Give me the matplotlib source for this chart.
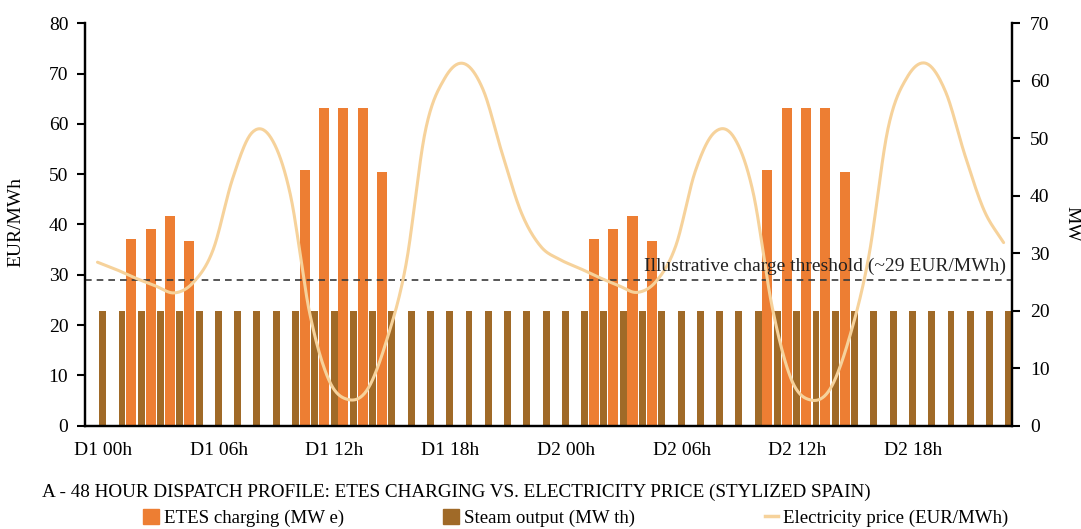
import numpy as np
import matplotlib.pyplot as plt
from matplotlib.patches import Patch
from matplotlib.lines import Line2D

plt.rcParams['font.family'] = ['Liberation Serif', 'DejaVu Serif']
plt.rcParams['font.size'] = 14

# 48 hourly steps, two stylized days
hours = np.arange(48)
tick_hours = [0, 6, 12, 18, 24, 30, 36, 42]
tick_labels = ["D1 00h", "D1 06h", "D1 12h", "D1 18h",
               "D2 00h", "D2 06h", "D2 12h", "D2 18h"]

# electricity price, EUR/MWh
price = [32.5, 31.0, 29.3, 27.8, 26.4, 28.6, 35.0, 49.0, 58.2, 57.2, 46.0, 22.5,
         9.1, 5.2, 7.2, 17.0, 32.0, 58.5, 69.0, 72.0, 66.8, 54.0, 42.2, 35.6,
         33.0, 31.3, 29.5, 27.9, 26.5, 28.8, 35.8, 50.5, 58.3, 57.4, 46.5, 23.5,
         9.1, 5.1, 7.3, 17.5, 33.5, 59.0, 69.3, 72.0, 66.3, 53.7, 42.7, 36.4]

# ETES charging, MW e (only hours where it charges)
charge_hours = [2, 3, 4, 5, 11, 12, 13, 14, 15,
                26, 27, 28, 29, 35, 36, 37, 38, 39]
charge_mw = [32.5, 34.3, 36.4, 32.2, 44.4, 55.3, 55.3, 55.3, 44.2,
             32.5, 34.3, 36.4, 32.2, 44.4, 55.3, 55.3, 55.3, 44.2]

# steam output, MW th
steam_mw = [20] * 48

threshold = 29

c_charge = "#ED7E33"
c_steam = "#A06A28"
c_price = "#F6D29B"


def smooth(x, y, n=20):
    # catmull-rom style curve through the hourly points
    x = np.asarray(x, float)
    y = np.asarray(y, float)
    m = np.gradient(y, x)
    xs, ys = [], []
    for i in range(len(x) - 1):
        t = np.linspace(0, 1, n, endpoint=False)
        h = x[i + 1] - x[i]
        h00 = 2 * t**3 - 3 * t**2 + 1
        h10 = t**3 - 2 * t**2 + t
        h01 = -2 * t**3 + 3 * t**2
        h11 = t**3 - t**2
        xs.append(x[i] + t * h)
        ys.append(h00 * y[i] + h10 * h * m[i] + h01 * y[i + 1] + h11 * h * m[i + 1])
    xs.append([x[-1]])
    ys.append([y[-1]])
    return np.concatenate(xs), np.concatenate(ys)


fig = plt.figure(figsize=(10.81, 5.29), dpi=100)
ax = fig.add_axes([0.0786, 0.1953, 0.8573, 0.7607])   # bars, MW (right scale)
ax2 = ax.twinx()                                        # price, EUR/MWh (left scale)

ax.bar(np.array(charge_hours) - 0.25, charge_mw, width=0.52, color=c_charge, zorder=2)
ax.bar(hours + 0.27, steam_mw, width=0.36, color=c_steam, zorder=2)

xs, ys = smooth(hours, price)
ax2.plot(xs, ys, color=c_price, lw=2.2, solid_capstyle='round', zorder=3)
ax2.axhline(threshold, color="#3a3a3a", lw=1.2, dashes=(4, 3), zorder=2)
ax2.annotate("Illustrative charge threshold (~29 EUR/MWh)",
             xy=(0.994, threshold), xycoords=ax2.get_yaxis_transform(),
             xytext=(0, 3.5), textcoords="offset points",
             ha="right", va="bottom", fontsize=14, color="#222222")

ax.set_xlim(-0.65, 47.42)
ax.set_ylim(0, 70)
ax2.set_ylim(0, 80)

# swap sides: MW on the right, EUR/MWh on the left
ax.yaxis.tick_right()
ax2.yaxis.tick_left()

ax.set_yticks(np.arange(0, 71, 10))
ax2.set_yticks(np.arange(0, 81, 10))
ax.set_xticks(np.array(tick_hours) + 0.3)
ax.set_xticklabels(tick_labels)

fig.text(16 / 1081, 1 - 222 / 529, "EUR/MWh", rotation=90, ha="center", va="center")
fig.text(1072 / 1081, 1 - 224 / 529, "MW", rotation=270, ha="center", va="center")

for a in (ax, ax2):
    a.spines["top"].set_visible(False)
    for s in ("left", "right", "bottom"):
        a.spines[s].set_linewidth(1.6)
ax.tick_params(axis="y", length=6, width=1.5, pad=7)
ax2.tick_params(axis="y", length=6, width=1.5, pad=6)
ax.tick_params(axis="x", length=0, pad=12)

fig.text(42 / 1081, 1 - 492 / 529,
         "A - 48 HOUR DISPATCH PROFILE: ETES CHARGING VS. ELECTRICITY PRICE (STYLIZED SPAIN)",
         ha="left", va="center", fontsize=13.8)

entries = [
    (Patch(color=c_charge), "ETES charging (MW e)", 143, 0.85),
    (Patch(color=c_steam), "Steam output (MW th)", 443, 0.85),
    (Line2D([], [], color=c_price, lw=2.5), "Electricity price (EUR/MWh)", 765, 0.7),
]
for handle, label, x0, hl in entries:
    fig.legend([handle], [label], loc="center left",
               bbox_to_anchor=(x0 / 1081, 1 - 518 / 529),
               frameon=False, borderpad=0, borderaxespad=0,
               handlelength=hl, handleheight=0.9, handletextpad=0.25,
               fontsize=13.6)

fig.savefig("out.png", dpi=100)
